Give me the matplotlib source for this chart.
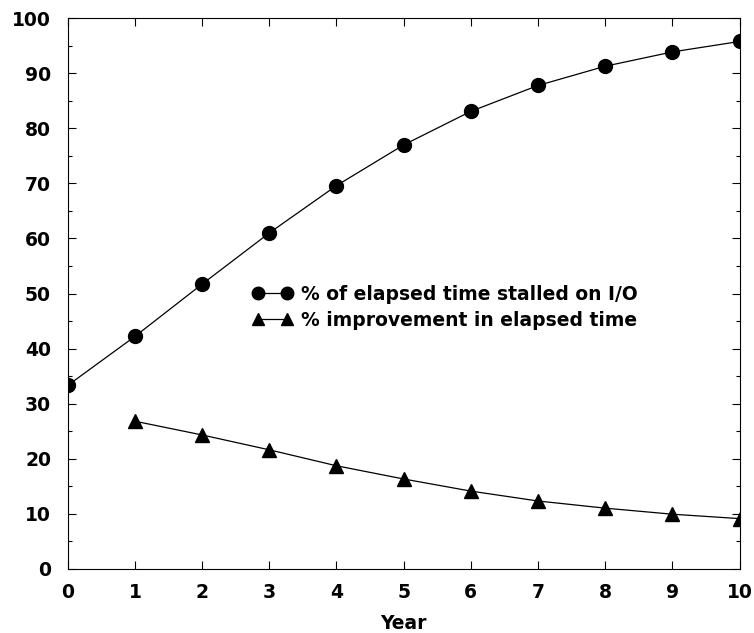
import matplotlib
matplotlib.use('Agg')
import matplotlib.pyplot as plt
from matplotlib.ticker import MultipleLocator

# ===== data =====
years = [0, 1, 2, 3, 4, 5, 6, 7, 8, 9, 10]
stalled_io = [33.3, 42.2, 51.7, 61.0, 69.6, 77.0, 83.1, 87.8, 91.3, 93.9, 95.8]

years_impr = [1, 2, 3, 4, 5, 6, 7, 8, 9, 10]
improvement = [26.8, 24.3, 21.6, 18.7, 16.3, 14.1, 12.3, 11.0, 9.9, 9.1]

LABEL_IO = '% of elapsed time stalled on I/O'
LABEL_IMPR = '% improvement in elapsed time'

plt.rcParams['font.family'] = ['DejaVu Sans']
plt.rcParams['font.weight'] = 'bold'
FS = 13.5

fig = plt.figure(figsize=(7.54, 6.33), dpi=100)
ax = fig.add_axes([0.0898, 0.1016, 0.8910, 0.8694])

ax.plot(years, stalled_io, color='black', lw=0.9, marker='o', markersize=10,
        label=LABEL_IO)
ax.plot(years_impr, improvement, color='black', lw=0.9, marker='^', markersize=10,
        label=LABEL_IMPR)

ax.set_xlim(0, 10)
ax.set_ylim(0, 100)
ax.xaxis.set_major_locator(MultipleLocator(1))
ax.yaxis.set_major_locator(MultipleLocator(10))
ax.yaxis.set_minor_locator(MultipleLocator(5))

ax.tick_params(which='both', direction='in', top=True, right=True, width=0.8)
ax.tick_params(which='major', length=6)
ax.tick_params(which='minor', length=3)
ax.tick_params(axis='x', which='major', labelsize=FS, pad=10)
ax.tick_params(axis='y', which='major', labelsize=FS, pad=12)
for lab in ax.get_xticklabels() + ax.get_yticklabels():
    lab.set_fontweight('bold')

for sp in ax.spines.values():
    sp.set_linewidth(0.8)

ax.set_xlabel('Year', fontsize=FS, fontweight='bold', labelpad=9)

leg = ax.legend(loc='upper left', bbox_to_anchor=(0.2635, 0.53), frameon=False,
                numpoints=2, handlelength=2.15, handletextpad=0.45,
                labelspacing=0.38, borderaxespad=0, markerscale=0.9,
                prop={'size': FS, 'weight': 'bold'})

fig.savefig('out.png', dpi=100)
